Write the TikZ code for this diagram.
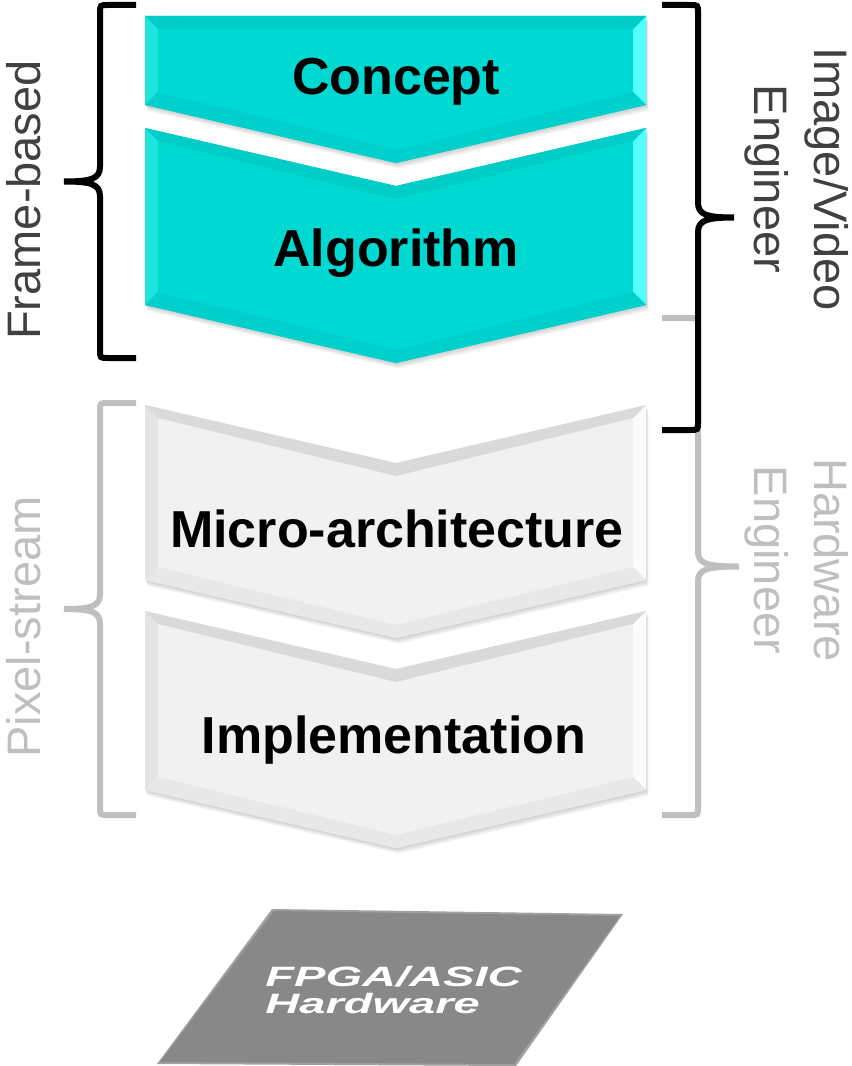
\documentclass[tikz,border=0pt]{standalone}
\usepackage{fontspec}
\setmainfont{Liberation Sans}

% palettes for the bevelled chevrons
\definecolor{cyanface}{RGB}{0,216,210}
\definecolor{cyantop}{RGB}{0,204,200}
\definecolor{cyanleft}{RGB}{30,228,222}
\definecolor{cyanright}{RGB}{84,255,255}
\definecolor{cyanbot}{RGB}{0,208,204}
\definecolor{grayface}{RGB}{241,241,241}
\definecolor{graytop}{RGB}{218,218,218}
\definecolor{grayleft}{RGB}{228,228,228}
\definecolor{grayright}{RGB}{252,252,252}
\definecolor{graybot}{RGB}{232,232,232}
\definecolor{labeldark}{RGB}{64,64,64}
\definecolor{labellight}{RGB}{191,191,191}
\definecolor{chipgray}{RGB}{136,136,136}

% one bevelled chevron spanning x = 145 .. 646
% #1 top edge y, #2 y where the sides end, #3 depth of the top notch, #4 palette
\newcommand\bevelchevron[4]{%
  \foreach \o in {1,2,3}{%
    \fill[black,opacity=0.06,shift={(0.8*\o,1.8*\o)}]
      (145,#1) -- (396,{#1+#3}) -- (646,#1) -- (646,#2) -- (396,{#2+58}) -- (145,#2) -- cycle;
  }
  \fill[#4face] (145,#1) -- (396,{#1+#3}) -- (646,#1) -- (646,#2) -- (396,{#2+58}) -- (145,#2) -- cycle;
  \fill[#4left] (145,#1) -- (158,{#1+13}) -- (158,{#2-13}) -- (145,#2) -- cycle;
  \fill[#4right] (646,#1) -- (633,{#1+13}) -- (633,{#2-13}) -- (646,#2) -- cycle;
  \fill[#4top] (145,#1) -- (396,{#1+#3}) -- (646,#1) -- (633,{#1+13}) -- (396,{#1+#3+13}) -- (158,{#1+13}) -- cycle;
  \fill[#4bot] (145,#2) -- (396,{#2+58}) -- (646,#2) -- (633,{#2-13}) -- (396,{#2+45}) -- (158,{#2-13}) -- cycle;
}

% curly brace: #1 style, #2 spine x, #3 top y, #4 bottom y, #5 tip x, #6 end x of the arms, #7 side of the tip (-1 left, 1 right)
\newcommand\curlybrace[7]{%
  \pgfmathsetmacro\bmid{(#3+#4)/2}
  \draw[#1] (#6,#3) -- ({#2-8*#7},#3) .. controls (#2,#3) .. (#2,{#3+8})
    -- (#2,{\bmid-15}) .. controls (#2,{\bmid-3}) and ({#2+8*#7},\bmid) .. (#5,\bmid)
    .. controls ({#2+8*#7},\bmid) and (#2,{\bmid+3}) .. (#2,{\bmid+15})
    -- (#2,{#4-8}) .. controls (#2,#4) .. ({#2-8*#7},#4) -- (#6,#4);
}

\tikzset{
  steplabel/.style={font=\bfseries\fontsize{39}{44}\selectfont, anchor=base, inner sep=0pt, text=black},
  sidelabel/.style={font=\fontsize{35.25}{45}\selectfont, inner sep=0pt, align=center},
  chiplabel/.style={font=\bfseries\itshape\fontsize{21}{20}\selectfont, text=white, xscale=1.68, inner sep=0pt, align=left},
  blackbrace/.style={draw=black, line width=4.5pt},
  graybrace/.style={draw=labellight, line width=4.5pt},
}

\begin{document}
\begin{tikzpicture}[x=0.75pt,y=-0.75pt]
\useasboundingbox (0,0) rectangle (851,1066);

% process steps
\bevelchevron{16}{105}{0}{cyan}
\bevelchevron{128}{305}{58}{cyan}
\bevelchevron{405}{580}{58}{gray}
\bevelchevron{611}{790}{58}{gray}

\node[steplabel] (concept) at (396,95) {Concept};
\node[steplabel] (algorithm) at (396,267) {Algorithm};
\node[steplabel] (micro) at (397,547) {Micro-architecture};
\node[steplabel] (impl) at (394,753) {Implementation};

% target device
\fill[chipgray!80!white] (272,909) -- (623,914) -- (516,1066) -- (157,1064) -- cycle;
\fill[chipgray] (274,911) -- (620,916) -- (514,1064) -- (160,1062) -- cycle;
\node[chiplabel, anchor=north west] (chip) at (265,966) {FPGA/ASIC\\Hardware};

% braces
\curlybrace{graybrace}{100}{403}{815}{64}{136}{-1}
\curlybrace{graybrace}{698}{318}{815}{739}{662}{1}
\curlybrace{blackbrace}{100}{5}{358}{64}{136}{-1}
\curlybrace{blackbrace}{698}{5}{430}{734}{662}{1}

% brace labels
\node[sidelabel, text=labeldark, rotate=90, anchor=base] (frame) at (40,200) {Frame-based};
\node[sidelabel, text=labellight, rotate=90, anchor=base] (pixel) at (40,627) {Pixel-stream};
\node[sidelabel, text=labeldark, rotate=-90] (imgeng) at (797,179) {Image/Video\\Engineer};
\node[sidelabel, text=labellight, rotate=-90] (hweng) at (797,560) {Hardware\\Engineer};
\end{tikzpicture}
\end{document}
